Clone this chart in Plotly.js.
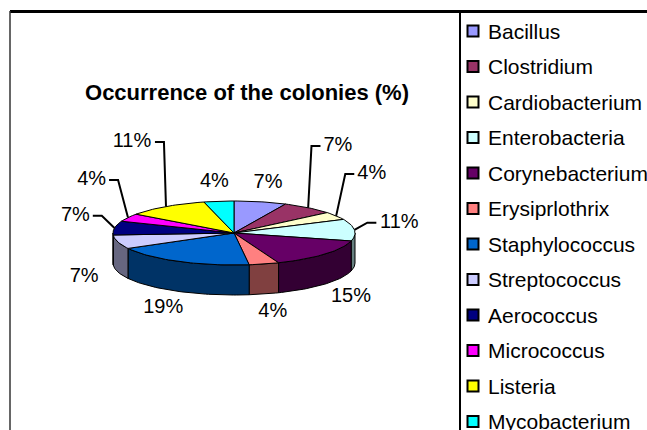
<!DOCTYPE html>
<html>
<head>
<meta charset="utf-8">
<script src="https://cdn.plot.ly/plotly-3.0.1.min.js"></script>
<style>html,body{margin:0;padding:0;background:#fff;}#chart{width:647px;height:430px;}</style>
</head>
<body>
<div id="chart"></div>
<script>
// ---- data ----
const categories = ['Bacillus','Clostridium','Cardiobacterium','Enterobacteria','Corynebacterium','Erysiprlothrix','Staphylococcus','Streptococcus','Aerococcus','Micrococcus','Listeria','Mycobacterium'];
const values = [7, 7, 4, 11, 15, 4, 19, 7, 7, 4, 11, 4];
const colors = ['#9999FF','#993366','#FFFFCC','#CCFFFF','#660066','#FF8080','#0066CC','#CCCCFF','#000080','#FF00FF','#FFFF00','#00FFFF'];
const leaderLabels = ['Clostridium','Cardiobacterium','Enterobacteria','Aerococcus','Micrococcus','Listeria'];
const chartTitle = 'Occurrence of the colonies (%)';

// ---- geometry of the tilted pie (pixel-like data units) ----
const CX = 234, CY = 233, RX = 121, RY = 32, DEPTH = 30;
const FONT = 'Liberation Sans, Arial, sans-serif';
const LABEL_SIZE = 20;

function darken(hex, f) {
  const n = parseInt(hex.slice(1), 16);
  const r = Math.round(((n >> 16) & 255) * f), g = Math.round(((n >> 8) & 255) * f), b = Math.round((n & 255) * f);
  return 'rgb(' + r + ',' + g + ',' + b + ')';
}
function pt(t, dy) { return [CX + RX * Math.sin(t), CY - RY * Math.cos(t) + (dy || 0)]; }
function arc(a0, a1, dy) {
  const n = Math.max(2, Math.ceil(Math.abs(a1 - a0) / (Math.PI / 120)) + 1);
  const xs = [], ys = [];
  for (let k = 0; k < n; k++) {
    const t = a0 + (a1 - a0) * k / (n - 1);
    const p = pt(t, dy); xs.push(p[0]); ys.push(p[1]);
  }
  return [xs, ys];
}

const total = values.reduce((a, b) => a + b, 0);
const starts = [], ends = [];
let acc = 0;
values.forEach(v => { starts.push(acc / total * 2 * Math.PI); acc += v; ends.push(acc / total * 2 * Math.PI); });

const traces = [];
// outer walls (front half only)
values.forEach((v, i) => {
  const s = Math.max(starts[i], Math.PI / 2), e = Math.min(ends[i], 3 * Math.PI / 2);
  if (e <= s) return;
  const top = arc(s, e, 0), bot = arc(e, s, DEPTH);
  traces.push({
    type: 'scatter', mode: 'lines', x: top[0].concat(bot[0], [top[0][0]]), y: top[1].concat(bot[1], [top[1][0]]),
    fill: 'toself', fillcolor: darken(colors[i], 0.5), line: { color: '#000', width: 1 },
    hoverinfo: 'skip', showlegend: false
  });
});
// top faces
values.forEach((v, i) => {
  const a = arc(starts[i], ends[i], 0);
  traces.push({
    type: 'scatter', mode: 'lines', x: [CX].concat(a[0], [CX]), y: [CY].concat(a[1], [CY]),
    fill: 'toself', fillcolor: colors[i], line: { color: '#000', width: 1 },
    hoverinfo: 'skip', showlegend: false, name: categories[i]
  });
});

// percentage labels and leader lines
const lx = [], ly = [], lt = [], leadX = [], leadY = [];
values.forEach((v, i) => {
  const m = (starts[i] + ends[i]) / 2;
  const txt = v + '%';
  const hw = (String(v).length * 0.556 + 0.889) * LABEL_SIZE / 2;
  const sgn = Math.sin(m) >= 0 ? 1 : -1;
  let x, y;
  if (leaderLabels.indexOf(categories[i]) >= 0) {
    x = CX + 146 * Math.sin(m) + sgn * hw;
    y = CY - 110 * Math.cos(m);
    const edge = pt(m, 0);
    const h0 = x - sgn * (hw + 3), h1 = x - sgn * (hw + 12);
    leadX.push(h0, h1, edge[0], null);
    leadY.push(y, y, edge[1], null);
  } else {
    x = CX + (RX + 35) * Math.sin(m);
    y = CY - (RY + 19) * Math.cos(m) + (Math.cos(m) < 0 ? DEPTH : 0);
  }
  lx.push(x); ly.push(y); lt.push(txt);
});
traces.push({ type: 'scatter', mode: 'lines', x: leadX, y: leadY, line: { color: '#000', width: 2 }, hoverinfo: 'skip', showlegend: false, connectgaps: false });
traces.push({ type: 'scatter', mode: 'text', x: lx, y: ly, text: lt, textposition: 'middle center',
  textfont: { family: FONT, size: LABEL_SIZE, color: '#000' }, hoverinfo: 'skip', showlegend: false });

// legend (drawn on the same axes)
const LEG_X = 473, LEG_Y0 = 31, LEG_DY = 35.5;
traces.push({
  type: 'scatter', mode: 'markers', x: categories.map(() => LEG_X), y: categories.map((c, i) => LEG_Y0 + LEG_DY * i),
  marker: { symbol: 'square', size: 11, color: colors, line: { color: '#000', width: 2 } },
  hoverinfo: 'skip', showlegend: false
});
const annotations = categories.map((c, i) => ({
  x: LEG_X + 13, y: LEG_Y0 + LEG_DY * i, xref: 'x', yref: 'y', text: c, showarrow: false,
  xanchor: 'left', yanchor: 'middle', font: { family: FONT, size: 21, color: '#000' }
}));

const layout = {
  width: 647, height: 430,
  margin: { l: 0, r: 0, t: 0, b: 0 },
  paper_bgcolor: '#fff', plot_bgcolor: '#fff',
  showlegend: false,
  title: { text: '<b>' + chartTitle + '</b>', x: 247 / 647, xref: 'paper', y: 1 - 92 / 430, yref: 'paper',
    xanchor: 'center', yanchor: 'middle', font: { family: FONT, size: 22, color: '#000' } },
  xaxis: { range: [0, 647], visible: false, fixedrange: true },
  yaxis: { range: [430, 0], visible: false, fixedrange: true },
  annotations: annotations,
  shapes: [
    { type: 'line', xref: 'x', yref: 'y', x0: 10, x1: 647, y0: 11.5, y1: 11.5, line: { color: '#000', width: 3 } },
    { type: 'line', xref: 'x', yref: 'y', x0: 10, x1: 10, y0: 11, y1: 430, line: { color: '#333', width: 1.5 } },
    { type: 'line', xref: 'x', yref: 'y', x0: 460, x1: 460, y0: 11, y1: 430, line: { color: '#000', width: 2 } }
  ]
};

Plotly.newPlot('chart', traces, layout, { staticPlot: true, displayModeBar: false });
</script>
</body>
</html>
